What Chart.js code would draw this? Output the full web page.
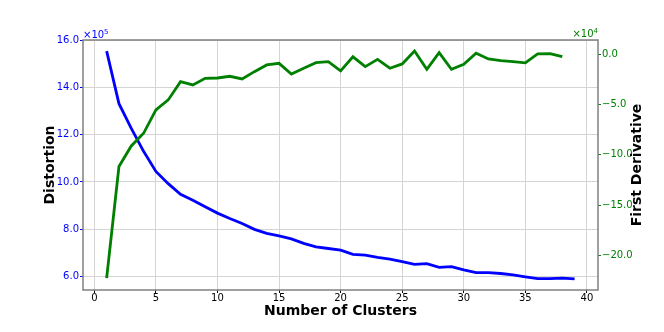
<!DOCTYPE html>
<html>
<head>
<meta charset="utf-8">
<script src="https://cdn.jsdelivr.net/npm/chart.js@4/dist/chart.umd.min.js"></script>
<style>
  html, body { margin: 0; padding: 0; background: #fff; }
  #wrap { width: 664px; height: 332px; }
</style>
</head>
<body>
<div id="wrap"><canvas id="chart"></canvas></div>
<script>
// values
const clusters = [1, 2, 3, 4, 5, 6, 7, 8, 9, 10, 11, 12, 13, 14, 15, 16, 17, 18, 19, 20,
  21, 22, 23, 24, 25, 26, 27, 28, 29, 30, 31, 32, 33, 34, 35, 36, 37, 38, 39];
const distortion = [1555000, 1332000, 1227000, 1130000, 1045000, 993000, 948000, 923000, 895000, 868000,
  845000, 824000, 799000, 782000, 771000, 759000, 740000, 725000, 718000, 711000,
  693000, 690000, 680000, 673000, 662000, 651000, 654000, 638000, 641000, 627000,
  616000, 616000, 612000, 606000, 598000, 590000, 590000, 592000, 589000];
const derivClusters = clusters.slice(0, 38);
const firstDerivative = [-222700, -111700, -91200, -78600, -55400, -45400, -27200, -30500, -23900, -23600,
  -21900, -24500, -17300, -10600, -9000, -19600, -13900, -8300, -7300, -16600,
  -2500, -12300, -5000, -13900, -9600, 3300, -14900, 1600, -14900, -10000,
  1000, -4700, -6300, -7300, -8600, 300, 600, -2400];
const xTicks = [0, 5, 10, 15, 20, 25, 30, 35, 40];
const leftTicks = [600000, 800000, 1000000, 1200000, 1400000, 1600000];
const rightTicks = [-200000, -150000, -100000, -50000, 0];

const BLUE = "#0000ff";
const GREEN = "#008000";
const GRID = "#d4d4d4";
const FONT = "'DejaVu Sans', sans-serif";

const fmt = (v, exp) => (v / exp).toFixed(1).replace("-", "\u2212");
const fixed = (vals) => (scale) => { scale.ticks = vals.map((v) => ({ value: v })); };

// frame, offset labels and right-hand title
const extras = {
  id: "extras",
  afterDraw(chart) {
    const { ctx, chartArea: a } = chart;
    ctx.save();
    ctx.strokeStyle = "#808080";
    ctx.lineWidth = 1.5;
    ctx.strokeRect(a.left, a.top, a.right - a.left, a.bottom - a.top);

    const sup = (x, y, base, exp, color, alignRight) => {
      ctx.fillStyle = color;
      ctx.textBaseline = "alphabetic";
      ctx.font = "10px " + FONT;
      const w1 = ctx.measureText(base).width;
      ctx.font = "7px " + FONT;
      const w2 = ctx.measureText(exp).width;
      const x0 = alignRight ? x - w1 - w2 : x;
      ctx.font = "10px " + FONT;
      ctx.textAlign = "left";
      ctx.fillText(base, x0, y);
      ctx.font = "7px " + FONT;
      ctx.fillText(exp, x0 + w1, y - 4);
    };
    sup(a.left, a.top - 2, "\u00d710", "5", BLUE, false);
    sup(a.right, a.top - 3, "\u00d710", "4", GREEN, true);

    ctx.translate(637, (a.top + a.bottom) / 2);
    ctx.rotate(-Math.PI / 2);
    ctx.fillStyle = "#000";
    ctx.font = "bold 14px " + FONT;
    ctx.textAlign = "center";
    ctx.textBaseline = "middle";
    ctx.fillText("First Derivative", 0, 0);
    ctx.restore();
  }
};

new Chart(document.getElementById("chart"), {
  type: "line",
  data: {
    datasets: [
      {
        label: "First Derivative",
        data: derivClusters.map((c, i) => ({ x: c, y: firstDerivative[i] })),
        yAxisID: "y1",
        borderColor: GREEN,
        borderWidth: 2.8,
        pointRadius: 0,
        tension: 0,
        order: 0
      },
      {
        label: "Distortion",
        data: clusters.map((c, i) => ({ x: c, y: distortion[i] })),
        yAxisID: "y",
        borderColor: BLUE,
        borderWidth: 2.8,
        pointRadius: 0,
        tension: 0,
        order: 1
      }
    ]
  },
  options: {
    responsive: true,
    maintainAspectRatio: false,
    animation: false,
    layout: { padding: { top: 40, left: 0, right: 0, bottom: 0 } },
    plugins: { legend: { display: false }, tooltip: { enabled: false } },
    scales: {
      x: {
        type: "linear",
        min: -0.92,
        max: 40.9,
        afterBuildTicks: fixed(xTicks),
        afterFit: (s) => { s.height = 42; },
        border: { display: false },
        grid: { color: GRID, lineWidth: 1, tickColor: "#000", tickLength: 3 },
        ticks: { color: "#000", padding: 0, font: { family: FONT, size: 10, lineHeight: 1 } },
        title: {
          display: true,
          text: "Number of Clusters",
          color: "#000",
          font: { family: FONT, size: 14, weight: "bold", lineHeight: 1.2 },
          padding: { top: 0, bottom: 12 }
        }
      },
      y: {
        position: "left",
        min: 542000,
        max: 1602000,
        afterBuildTicks: fixed(leftTicks),
        afterFit: (s) => { s.width = 83; },
        border: { display: false },
        grid: { color: GRID, lineWidth: 1, tickColor: BLUE, tickLength: 3 },
        ticks: {
          color: BLUE,
          padding: 1,
          font: { family: FONT, size: 10 },
          callback: (v) => fmt(v, 1e5)
        },
        title: {
          display: true,
          text: "Distortion",
          color: "#000",
          font: { family: FONT, size: 14, weight: "bold", lineHeight: 1.2 },
          padding: { top: 42, bottom: 0 }
        }
      },
      y1: {
        position: "right",
        min: -234500,
        max: 14200,
        afterBuildTicks: fixed(rightTicks),
        afterFit: (s) => { s.width = 66; },
        border: { display: false },
        grid: { drawOnChartArea: false, tickColor: GREEN, tickLength: 3 },
        ticks: {
          color: GREEN,
          padding: 1,
          font: { family: FONT, size: 10 },
          callback: (v) => fmt(v, 1e4)
        }
      }
    }
  },
  plugins: [extras]
});
</script>
</body>
</html>
